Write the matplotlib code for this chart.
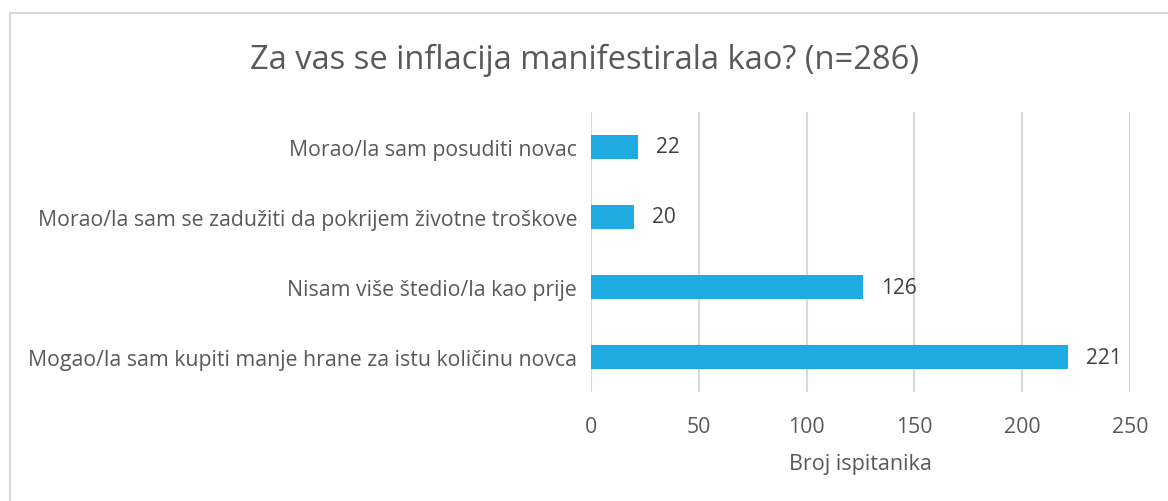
import matplotlib.pyplot as plt
from matplotlib.lines import Line2D

plt.rcParams['font.family'] = ['Open Sans', 'DejaVu Sans']

categories = ['Mogao/la sam kupiti manje hrane za istu količinu novca',
              'Nisam više štedio/la kao prije',
              'Morao/la sam se zadužiti da pokrijem životne troškove',
              'Morao/la sam posuditi novac']
counts = [221, 126, 20, 22]
xticks = [0, 50, 100, 150, 200, 250]

text_col = '#595959'
bar_col = '#1EABE2'

fig = plt.figure(figsize=(11.68, 5.02), dpi=100)
ax = fig.add_axes([0.506, 0.217, 0.4615, 0.558])

ypos = list(range(len(categories)))
ax.barh(ypos, counts, height=0.34, color=bar_col, zorder=3)
for y, v in zip(ypos, counts):
    ax.annotate(str(v), (v, y), xytext=(13, 0), textcoords='offset points',
                va='center', ha='left', fontsize=15, color='#404040')

ax.set_xlim(0, 250)
ax.set_ylim(-0.5, len(categories) - 0.5)
ax.set_xticks(xticks)
ax.set_yticks(ypos)
ax.set_yticklabels(categories)
ax.grid(axis='x', color='#d9d9d9', linewidth=1.5, zorder=0)
for s in ax.spines.values():
    s.set_visible(False)
ax.tick_params(axis='both', length=0, labelsize=15.3, colors=text_col)
ax.tick_params(axis='x', pad=17)
ax.tick_params(axis='y', pad=10)
ax.set_xlabel('Broj ispitanika', fontsize=15.5, color=text_col, labelpad=12)

fig.text(0.5, 0.88, 'Za vas se inflacija manifestirala kao? (n=286)',
         ha='center', va='center', fontsize=23.5, color=text_col)

# chart border (only top and left edges visible in frame)
fig.add_artist(Line2D([9.5 / 1168, 9.5 / 1168], [0, 1 - 13.5 / 502],
                      transform=fig.transFigure, color='#d9d9d9', linewidth=1.5))
fig.add_artist(Line2D([9.5 / 1168, 1], [1 - 13.5 / 502, 1 - 13.5 / 502],
                      transform=fig.transFigure, color='#d9d9d9', linewidth=1.5))

fig.savefig('out.png', dpi=100)
